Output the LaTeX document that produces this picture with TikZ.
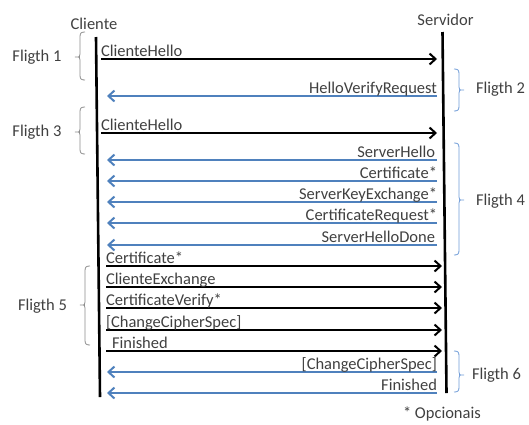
\documentclass[tikz,border=0pt]{standalone}
\usepackage{fontspec}
\setmainfont{Carlito}
\usetikzlibrary{arrows.meta}
\definecolor{txt}{RGB}{64,64,64}
\definecolor{msgblue}{RGB}{79,129,189}
\definecolor{brblue}{RGB}{110,155,215}
\definecolor{brgray}{RGB}{140,140,140}
\newcommand\leftbrk[4]{% x, top, mid, bottom
  \draw[brgray,line width=0.8pt] (#1+5,#2) .. controls (#1+1,#2) and (#1,#2+1) .. (#1,#2+5) -- (#1,#3-3) .. controls (#1,#3) .. (#1-5,#3) .. controls (#1,#3) .. (#1,#3+3) -- (#1,#4-5) .. controls (#1,#4-1) and (#1+1,#4) .. (#1+5,#4);}
\newcommand\rightbrk[4]{% x, top, mid, bottom
  \draw[brblue,line width=0.8pt] (#1-5,#2) .. controls (#1-1,#2) and (#1,#2+1) .. (#1,#2+5) -- (#1,#3-3) .. controls (#1,#3) .. (#1+5,#3) .. controls (#1,#3) .. (#1,#3+3) -- (#1,#4-5) .. controls (#1,#4-1) and (#1-1,#4) .. (#1-5,#4);}
\begin{document}
\begin{tikzpicture}[x=1pt,y=-1pt,
  every node/.style={font=\fontsize{16.5}{18}\selectfont,text=txt,inner sep=0pt,outer sep=0pt},
  lifeline/.style={line width=2.6pt,black},
  tomsg/.style={line width=2pt,black,-{Straight Barb[length=6pt,width=11pt,line width=2pt]}},
  frommsg/.style={line width=2pt,msgblue,-{Straight Barb[length=6pt,width=11pt,line width=2pt]}},
  lbl/.style={anchor=base west},
  rlbl/.style={anchor=base east}]
\useasboundingbox (0,0) rectangle (529,424);
% headers
\node[anchor=base] (hc) at (94,29) {Cliente};
\node[anchor=base] (hs) at (445.5,25) {Servidor};
% lifelines
\coordinate (ctop) at (96,37);
\coordinate (cbot) at (100,397);
\coordinate (stop) at (442.5,32);
\coordinate (sbot) at (446.5,393);
\draw[lifeline] (ctop) -- (cbot);
\draw[lifeline] (stop) -- (sbot);
% endpoints
\foreach \i/\y/\cx/\sx in {1/59/101/437,3/133/101/437,9/266/106/442,10/287/106/442,11/308/106/442,12/330/106/442,13/351/106/442}{
  \coordinate (c\i) at (\cx,\y);
  \coordinate (s\i) at (\sx,\y);
}
\foreach \i/\y in {2/96,4/160,5/181,6/202,7/223,8/245,14/372,15/393}{
  \coordinate (c\i) at (107,\y);
  \coordinate (s\i) at (437,\y);
}
% client -> server
\draw[tomsg] (c1) -- (s1);
\node[lbl] (m1) at ([yshift=3pt]c1) {ClienteHello};
\draw[tomsg] (c3) -- (s3);
\node[lbl] (m3) at ([yshift=3pt]c3) {ClienteHello};
\draw[tomsg] (c9) -- (s9);
\node[lbl] (m9) at ([yshift=3pt]c9) {Certificate*};
\draw[tomsg] (c10) -- (s10);
\node[lbl] (m10) at ([yshift=3pt]c10) {ClienteExchange};
\draw[tomsg] (c11) -- (s11);
\node[lbl] (m11) at ([yshift=3pt]c11) {CertificateVerify*};
\draw[tomsg] (c12) -- (s12);
\node[lbl] (m12) at ([yshift=3pt]c12) {[ChangeCipherSpec]};
\draw[tomsg] (c13) -- (s13);
\node[lbl] (m13) at ([yshift=3pt,xshift=6pt]c13) {Finished};
% server -> client
\draw[frommsg] (s2) -- (c2);
\node[rlbl] (m2) at ([yshift=3pt]s2) {HelloVerifyRequest};
\draw[frommsg] (s4) -- (c4);
\node[rlbl] (m4) at ([yshift=3pt,xshift=-2pt]s4) {ServerHello};
\draw[frommsg] (s5) -- (c5);
\node[rlbl] (m5) at ([yshift=3pt]s5) {Certificate*};
\draw[frommsg] (s6) -- (c6);
\node[rlbl] (m6) at ([yshift=3pt]s6) {ServerKeyExchange*};
\draw[frommsg] (s7) -- (c7);
\node[rlbl] (m7) at ([yshift=3pt]s7) {CertificateRequest*};
\draw[frommsg] (s8) -- (c8);
\node[rlbl] (m8) at ([yshift=3pt,xshift=-2pt]s8) {ServerHelloDone};
\draw[frommsg] (s14) -- (c14);
\node[rlbl] (m14) at ([yshift=3pt]s14) {[ChangeCipherSpec]};
\draw[frommsg] (s15) -- (c15);
\node[rlbl] (m15) at ([yshift=3pt]s15) {Finished};
% braces
\leftbrk{80}{32}{57}{80}
\leftbrk{80}{107}{132}{154}
\leftbrk{85}{266}{305}{345}
\rightbrk{459}{69}{90}{111}
\rightbrk{459}{143}{200}{255}
\rightbrk{459}{351}{375}{392}
% flight labels
\node[lbl] (f1) at (12.5,61.5) {Fligth 1};
\node[lbl] (f3) at (12.5,136) {Fligth 3};
\node[lbl] (f5) at (18,310.5) {Fligth 5};
\node[lbl] (f2) at (476,93.5) {Fligth 2};
\node[lbl] (f4) at (476,205) {Fligth 4};
\node[lbl] (f6) at (472,379.5) {Fligth 6};
\node[lbl] (opt) at (403,418) {* Opcionais};
\end{tikzpicture}
\end{document}
